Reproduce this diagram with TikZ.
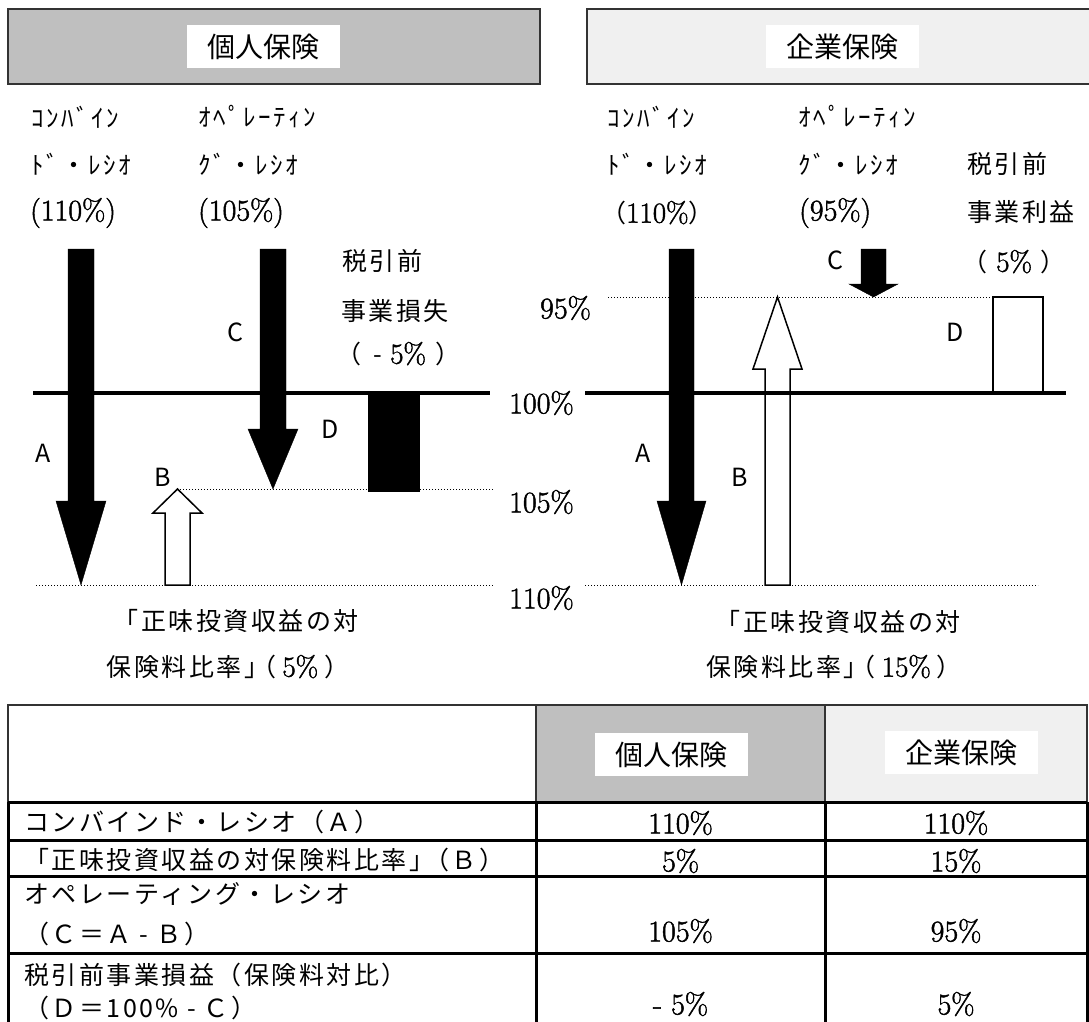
\documentclass[tikz,border=0pt]{standalone}
\usepackage{fontspec}
\newfontfamily\jpfont[LetterSpace=10]{Noto Sans CJK JP}
\newfontfamily\jphead{Noto Sans CJK JP}
\newfontfamily\numfont[FakeBold=1.6]{Latin Modern Roman}
\usetikzlibrary{calc}
\newcommand{\serifnum}[1]{{\numfont\fontsize{29}{32}\selectfont #1}}
\newcommand{\fwm}{\makebox[1em]{-}}
% block arrow: style, x, start, head base, tip, half shaft, half head
\newcommand{\blockarrow}[7]{%
    \draw[#1] ({#2-#6},#3) -- ({#2+#6},#3) -- ({#2+#6},#4) -- ({#2+#7},#4)
        -- (#2,#5) -- ({#2-#7},#4) -- ({#2-#6},#4) -- cycle;}
\tikzset{
    jp/.style={font=\jpfont\fontsize{25}{30}\selectfont, inner sep=0pt},
    num/.style={font=\numfont\fontsize{30}{34}\selectfont, inner sep=0pt},
    tag/.style={fill=white, minimum width=153pt, minimum height=43pt,
        inner sep=0pt, font=\jphead\fontsize{28}{32}\selectfont},
    panel/.style={draw=black!80, line width=1.5pt},
    solidbar/.style={fill=black},
    hollow/.style={draw=black, fill=white, line width=1.5pt},
    zeroline/.style={line width=4.5pt},
    guide/.style={line width=1pt, dash pattern=on 1pt off 2pt},
    hline/.style={draw=black!80, line width=1.5pt},
    rule/.style={line width=3pt},
}

\begin{document}
\begin{tikzpicture}[x=1pt,y=-1pt]
\useasboundingbox (0,0) rectangle (1089,1021);
\def\ytop{249}
\def\yp{297}
\def\yh{393}
\def\yf{489}
\def\yt{585}

% panel headers
\draw[panel, fill=gray!50] (8,9) rectangle (540,84);
\draw[panel, fill=gray!12] (587,9) rectangle (1095,84);
\node[tag] (hind) at (263.5,46.5) {個人保険};
\node[tag] (hcorp) at (842,46.5) {企業保険};

% top labels, left
\node[jp, anchor=west] (lcb1) at (31,117) {ｺﾝﾊﾞｲﾝ};
\node[jp, anchor=west] (lcb2) at (31,164) {ﾄﾞ・ﾚｼｵ};
\node[num, anchor=west] (lcb3) at (30,213) {(110\%)};
\node[jp, anchor=west] (lop1) at (198,117) {ｵﾍﾟﾚｰﾃｨﾝ};
\node[jp, anchor=west] (lop2) at (198,164) {ｸﾞ・ﾚｼｵ};
\node[num, anchor=west] (lop3) at (198,213) {(105\%)};
\node[jp, anchor=west] (lpr1) at (342,261) {税引前};
\node[jp, anchor=west] (lpr2) at (341,311) {事業損失};
\node[jp, anchor=west] (lpr3) at (336,354) {（\hspace{4pt}\fwm\serifnum{5\%}\hspace{10pt}）};

% top labels, right
\node[jp, anchor=west] (rcb1) at (607,117) {ｺﾝﾊﾞｲﾝ};
\node[jp, anchor=west] (rcb2) at (607,164) {ﾄﾞ・ﾚｼｵ};
\node[jp, anchor=west] (rcb3) at (601,213) {（\serifnum{110\%}）};
\node[jp, anchor=west] (rop1) at (798,117) {ｵﾍﾟﾚｰﾃｨﾝ};
\node[jp, anchor=west] (rop2) at (798,164) {ｸﾞ・ﾚｼｵ};
\node[num, anchor=west] (rop3) at (799,213) {(95\%)};
\node[jp, anchor=west] (rpr1) at (967,164) {税引前};
\node[jp, anchor=west] (rpr2) at (967,212) {事業利益};
\node[jp, anchor=west] (rpr3) at (962,262) {（\hspace{9pt}\serifnum{5\%}\hspace{9pt}）};

% level marks
\node[num, anchor=east] (p95) at (591,308) {95\%};
\node[num, anchor=west] (p100) at (509,403) {100\%};
\node[num, anchor=west] (p105) at (509,502) {105\%};
\node[num, anchor=west] (p110) at (509,598) {110\%};

% guides
\draw[guide] (177,\yf) -- (493,\yf);
\draw[guide] (36,\yt) -- (493,\yt);
\draw[guide] (608,\yp) -- (993,\yp);
\draw[guide] (585,\yt) -- (1038,\yt);

% left chart
\blockarrow{solidbar}{81}{\ytop}{501}{\yt}{13}{25}
\blockarrow{solidbar}{273}{\ytop}{429}{\yf}{13}{25}
\blockarrow{hollow}{177.5}{\yt}{513}{\yf}{12.5}{24.5}
\fill[solidbar] (368,\yh) rectangle (420,492);
\draw[zeroline] (33,\yh) -- (490,\yh);

% right chart
\blockarrow{solidbar}{681.5}{\ytop}{501}{\yt}{12.5}{24.5}
\blockarrow{hollow}{777.5}{\yt}{369}{\yp}{12.5}{24.5}
\blockarrow{solidbar}{873.5}{\ytop}{284}{\yp}{12.5}{24.5}
\draw[hollow] (993,\yp) rectangle (1043,394);
\draw[zeroline] (585,\yh) -- (1066,\yh);

% letters
\node[jp] (la) at (43,453) {A};
\node[jp] (lb) at (163,477) {B};
\node[jp] (lc) at (235,332) {C};
\node[jp] (ld) at (330,429) {D};
\node[jp] (ra) at (643,453) {A};
\node[jp] (rb) at (740,477) {B};
\node[jp] (rc) at (835,260) {C};
\node[jp] (rd) at (955,332) {D};

% captions
\node[jp] (lcap1) at (236,621) {「正味投資収益の対};
\node[jp] (lcap2) at (228,667) {保険料比率」\kern-18pt（\hspace{6pt}\serifnum{5\%}\hspace{6pt}）};
\node[jp] (rcap1) at (838,622) {「正味投資収益の対};
\node[jp] (rcap2) at (834,667) {保険料比率」\kern-18pt（\hspace{6pt}\serifnum{15\%}\hspace{6pt}）};

% table
\fill[gray!50] (536,705) rectangle (825,802);
\fill[gray!12] (825,705) rectangle (1087,802);
\draw[hline] (8,802) -- (8,705) -- (1087,705) -- (1087,802);
\draw[hline] (536,705) -- (536,802);
\draw[hline] (825,705) -- (825,802);
\foreach \y in {802,840,876,953}
    \draw[rule] (8,\y) -- (1087,\y);
\foreach \x in {8,536,825,1087}
    \draw[rule] (\x,802) -- (\x,1025);
\node[tag] (tind) at (671.5,754.5) {個人保険};
\node[tag] (tcorp) at (961.5,752.5) {企業保険};

\node[jp, anchor=west] (ra1) at (24,822) {コンバインド・レシオ（Ａ）};
\node[jp, anchor=west] (rb1) at (24,860) {「正味投資収益の対保険料比率」\kern-10pt（Ｂ）};
\node[jp, anchor=west] (rc1) at (24,894) {オペレーティング・レシオ};
\node[jp, anchor=west] (rc2) at (24,934) {（Ｃ＝Ａ\fwm Ｂ）};
\node[jp, anchor=west] (rd1) at (24,975) {税引前事業損益（保険料対比）};
\node[jp, anchor=west] (rd2) at (24,1008) {（Ｄ＝100\%\fwm Ｃ）};

\node[num] (va1) at (680.5,823) {110\%};
\node[num] (va2) at (956,823) {110\%};
\node[num] (vb1) at (680.5,861) {5\%};
\node[num] (vb2) at (956,861) {15\%};
\node[num] (vc1) at (680.5,931) {105\%};
\node[num] (vc2) at (956,931) {95\%};
\node[num] (vd1) at (680.5,1004) {- 5\%};
\node[num] (vd2) at (956,1004) {5\%};
\end{tikzpicture}
\end{document}
